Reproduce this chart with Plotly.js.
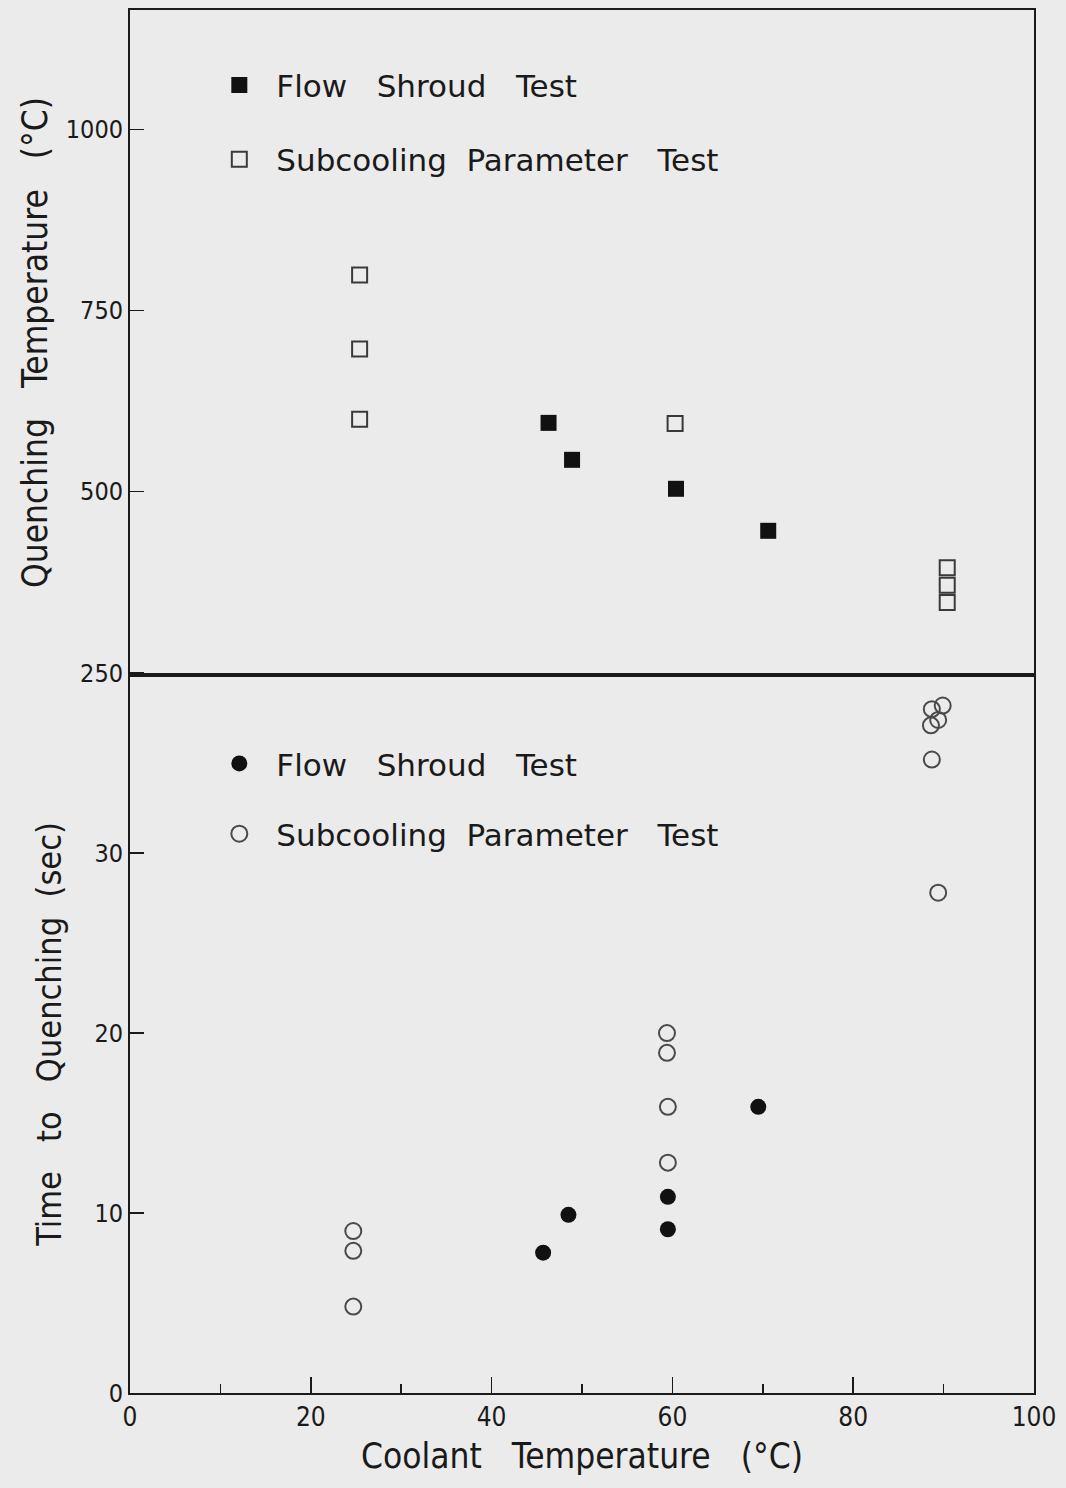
<!DOCTYPE html>
<html>
<head>
<meta charset="utf-8">
<script src="https://cdn.plot.ly/plotly-3.0.1.min.js"></script>
<style>html,body{margin:0;padding:0;background:#ebebeb;}</style>
</head>
<body>
<div id="chart" style="width:1066px;height:1488px;"></div>
<script>
// Top panel: Quenching temperature (°C) vs coolant temperature (°C)
const flowShroudTempX = [46.3, 48.9, 60.4, 70.6];
const flowShroudTempY = [595, 544, 504, 446];
const subcoolTempX = [25.4, 25.4, 25.4, 60.3, 90.4, 90.4, 90.4];
const subcoolTempY = [799, 697, 600, 594, 395, 371, 347];

// Bottom panel: Time to quenching (sec) vs coolant temperature (°C)
const flowShroudTimeX = [45.7, 48.5, 59.5, 59.5, 69.5];
const flowShroudTimeY = [7.8, 9.9, 10.9, 9.1, 15.9];
const subcoolTimeX = [24.7, 24.7, 24.7, 59.4, 59.4, 59.5, 59.5, 88.7, 89.9, 89.4, 88.6, 88.7, 89.4];
const subcoolTimeY = [9.0, 7.9, 4.8, 20.0, 18.9, 15.9, 12.8, 38.0, 38.2, 37.4, 37.1, 35.2, 27.8];

const topTicks = [250, 500, 750, 1000];
const bottomTicks = [0, 10, 20, 30];
const xTicks = [0, 20, 40, 60, 80, 100];

const S2 = "\u00A0\u00A0";
const S3 = "\u00A0\u00A0\u00A0";
const legendNames = ["Flow" + S3 + "Shroud" + S3 + "Test", "Subcooling" + S2 + "Parameter" + S3 + "Test"];

const FONT = "DejaVu Sans Condensed, DejaVu Sans, sans-serif";
const LFONT = "DejaVu Sans, sans-serif";
const INK = "#1a1a1a";
const BG = "#ebebeb";

const traces = [
  {x: flowShroudTempX, y: flowShroudTempY, xaxis: "x", yaxis: "y", type: "scatter", mode: "markers",
   name: legendNames[0], legend: "legend", legendgroup: "a",
   marker: {symbol: "square", size: 16, color: "#111", line: {width: 0}}},
  {x: subcoolTempX, y: subcoolTempY, xaxis: "x", yaxis: "y", type: "scatter", mode: "markers",
   name: legendNames[1], legend: "legend", legendgroup: "b",
   marker: {symbol: "square-open", size: 15, color: "#3a3a3a", line: {width: 2}}},
  {x: flowShroudTimeX, y: flowShroudTimeY, xaxis: "x2", yaxis: "y2", type: "scatter", mode: "markers",
   name: legendNames[0], legend: "legend2", legendgroup: "c",
   marker: {symbol: "circle", size: 16, color: "#111", line: {width: 0}}},
  {x: subcoolTimeX, y: subcoolTimeY, xaxis: "x2", yaxis: "y2", type: "scatter", mode: "markers",
   name: legendNames[1], legend: "legend2", legendgroup: "d",
   marker: {symbol: "circle-open", size: 16, color: "#4a4a4a", line: {width: 2}}}
];

const split = 0.5192;

const commonAxis = {
  showgrid: false, zeroline: false, showline: true, mirror: true,
  linecolor: INK, linewidth: 2,
  tickfont: {family: FONT, size: 26, color: INK},
  tickcolor: INK, tickwidth: 1.5
};

const layout = {
  width: 1066, height: 1488,
  margin: {l: 130, r: 32, t: 10, b: 95},
  paper_bgcolor: BG, plot_bgcolor: BG,
  font: {family: FONT, color: INK},
  showlegend: true,
  xaxis: Object.assign({}, commonAxis, {
    domain: [0, 1], anchor: "y", range: [0, 100],
    showticklabels: false, ticks: ""
  }),
  yaxis: Object.assign({}, commonAxis, {
    domain: [split, 1], anchor: "x", range: [247, 1165],
    tickmode: "array", tickvals: topTicks, ticktext: topTicks.map(String),
    ticks: "inside", ticklen: 14,
    tickfont: {family: FONT, size: 25, color: INK},
    title: {text: "Quenching" + S3 + "Temperature" + S3 + "(°C)", font: {family: FONT, size: 35, color: INK}, standoff: 8}
  }),
  xaxis2: Object.assign({}, commonAxis, {
    domain: [0, 1], anchor: "y2", range: [0, 100],
    tickmode: "array", tickvals: xTicks, ticktext: xTicks.map(String),
    ticks: "inside", ticklen: 16,
    minor: {tickmode: "linear", tick0: 0, dtick: 10, ticks: "inside", ticklen: 9, tickcolor: INK, tickwidth: 1.5, showgrid: false},
    title: {text: "Coolant" + S3 + "Temperature" + S3 + "(°C)", font: {family: FONT, size: 35, color: INK}, standoff: 12}
  }),
  yaxis2: Object.assign({}, commonAxis, {
    domain: [0, split], anchor: "x2", range: [0, 39.9],
    tickmode: "array", tickvals: bottomTicks, ticktext: bottomTicks.map(String),
    ticks: "inside", ticklen: 14,
    tickfont: {family: FONT, size: 25, color: INK},
    title: {text: "Time" + S3 + "to" + S3 + "Quenching" + S2 + "(sec)", font: {family: FONT, size: 34, color: INK}, standoff: 22}
  }),
  legend: {
    x: 0.08, y: 0.965, xanchor: "left", yanchor: "top",
    bgcolor: "rgba(0,0,0,0)", borderwidth: 0,
    font: {family: LFONT, size: 31, color: INK},
    traceorder: "grouped", tracegroupgap: 31, itemwidth: 64
  },
  legend2: {
    x: 0.08, y: 0.4745, xanchor: "left", yanchor: "top",
    bgcolor: "rgba(0,0,0,0)", borderwidth: 0,
    font: {family: LFONT, size: 31, color: INK},
    traceorder: "grouped", tracegroupgap: 27, itemwidth: 64
  }
};

Plotly.newPlot("chart", traces, layout, {displayModeBar: false, staticPlot: true});
</script>
</body>
</html>
